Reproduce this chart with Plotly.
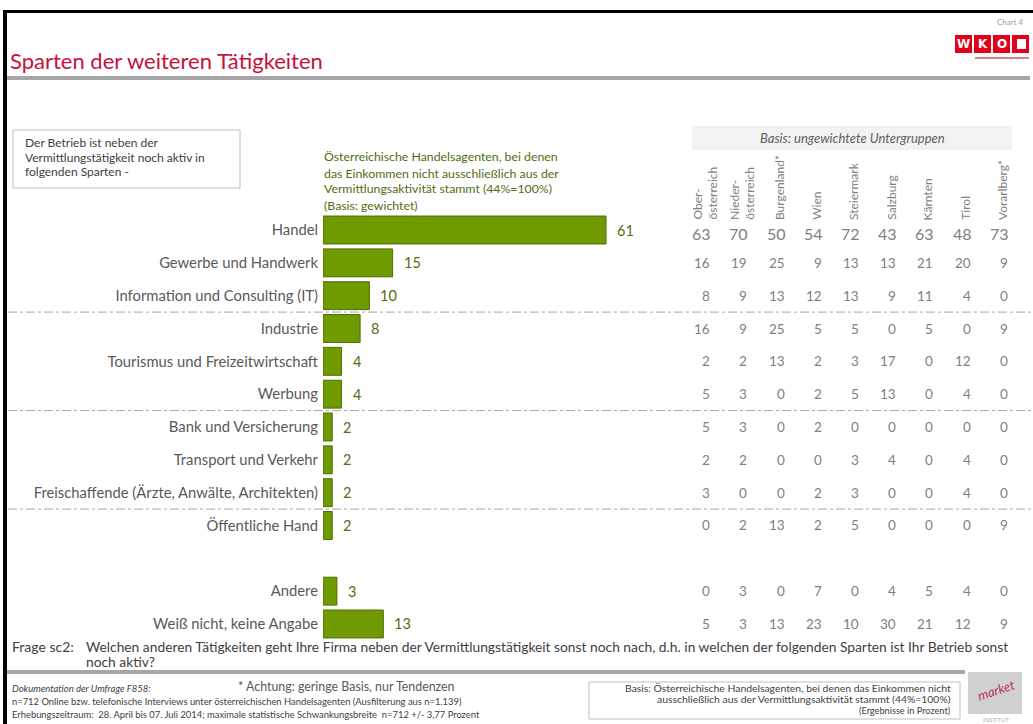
import plotly.graph_objects as go

W, H = 1033, 724

# ---------------- data ----------------
categories = [
    "Handel",
    "Gewerbe und Handwerk",
    "Information und Consulting (IT)",
    "Industrie",
    "Tourismus und Freizeitwirtschaft",
    "Werbung",
    "Bank und Versicherung",
    "Transport und Verkehr",
    "Freischaffende (Ärzte, Anwälte, Architekten)",
    "Öffentliche Hand",
    "Andere",
    "Weiß nicht, keine Angabe",
]
total_values = [61, 15, 10, 8, 4, 4, 2, 2, 2, 2, 3, 13]

regions = ["Ober-<br>österreich", "Nieder-<br>österreich", "Burgenland*", "Wien",
           "Steiermark", "Salzburg", "Kärnten", "Tirol", "Vorarlberg*"]

handel_r = [63, 70, 50, 54, 72, 43, 63, 48, 73]
gewerbe_r = [16, 19, 25, 9, 13, 13, 21, 20, 9]
info_r = [8, 9, 13, 12, 13, 9, 11, 4, 0]
industrie_r = [16, 9, 25, 5, 5, 0, 5, 0, 9]
tourismus_r = [2, 2, 13, 2, 3, 17, 0, 12, 0]
werbung_r = [5, 3, 0, 2, 5, 13, 0, 4, 0]
bank_r = [5, 3, 0, 2, 0, 0, 0, 0, 0]
transport_r = [2, 2, 0, 0, 3, 4, 0, 4, 0]
frei_r = [3, 0, 0, 2, 3, 0, 0, 4, 0]
oeff_r = [0, 2, 13, 2, 5, 0, 0, 0, 9]
andere_r = [0, 3, 0, 7, 0, 4, 5, 4, 0]
weiss_r = [5, 3, 13, 23, 10, 30, 21, 12, 9]
region_rows = [handel_r, gewerbe_r, info_r, industrie_r, tourismus_r, werbung_r,
               bank_r, transport_r, frei_r, oeff_r, andere_r, weiss_r]

spacer = " "
cat_order = categories[:10] + [spacer] + categories[10:]
separators_after = ["Information und Consulting (IT)", "Werbung",
                    "Freischaffende (Ärzte, Anwälte, Architekten)"]

# ---------------- styling ----------------
FONT = "Lato"
GREEN = "#6f9a00"
GREEN_EDGE = "#4f6e00"
GREEN_TXT = "#4f6e10"
LABEL_GRAY = "#595959"
NUM_GRAY = "#808080"
DARK = "#404040"


def X(px):
    return px / W


def Y(py):
    return 1 - py / H


fig = go.Figure()

fig.add_trace(go.Bar(
    x=total_values, y=categories, orientation="h",
    marker=dict(color=GREEN, line=dict(color=GREEN_EDGE, width=1)),
    xaxis="x", yaxis="y", hoverinfo="skip", showlegend=False,
))

# invisible trace on second x-axis so it is rendered
fig.add_trace(go.Scatter(
    x=regions, y=[categories[0]] * len(regions), mode="markers",
    marker=dict(opacity=0), xaxis="x2", yaxis="y", hoverinfo="skip", showlegend=False,
))

px_per_unit = (606 - 323) / 61
x_max = 70
bar_left = 323
bar_right = bar_left + x_max * px_per_unit

row_top = 230 - 16.4
row_bot = 624 + 16.4

fig.update_layout(
    width=W, height=H,
    margin=dict(l=0, r=0, t=0, b=0),
    paper_bgcolor="white", plot_bgcolor="rgba(0,0,0,0)",
    bargap=0.15,
    font=dict(family=FONT, color=LABEL_GRAY),
    xaxis=dict(domain=[X(bar_left), X(bar_right)], range=[0, x_max], visible=False,
               fixedrange=True),
    xaxis2=dict(domain=[X(686.4), X(1021.6)], range=[-0.5, len(regions) - 0.5],
                type="category", categoryorder="array", categoryarray=regions,
                visible=False, anchor="y"),
    yaxis=dict(domain=[Y(row_bot), Y(row_top)], type="category",
               categoryorder="array", categoryarray=cat_order,
               range=[len(cat_order) - 0.5, -0.5],
               showgrid=False, zeroline=False, showline=False, ticks="",
               ticklabelstandoff=4,
               tickfont=dict(family=FONT, size=14.8, color=LABEL_GRAY)),
)

ann = []
shapes = []

# value labels next to bars
for c, v in zip(categories, total_values):
    ann.append(dict(x=v, y=c, xref="x", yref="y", text=str(v), showarrow=False,
                    xanchor="left", xshift=9, font=dict(size=14.5, color=GREEN_TXT)))

# regional table
for r_i, (c, row) in enumerate(zip(categories, region_rows)):
    for reg, v in zip(regions, row):
        big = r_i == 0
        ann.append(dict(x=reg, y=c, xref="x2", yref="y", text=str(v), showarrow=False,
                        xanchor="right", xshift=8 if big else 7,
                        yshift=-3 if big else 0,
                        font=dict(size=16 if big else 13.5, color=NUM_GRAY)))

# rotated region headers
for reg in regions:
    ann.append(dict(x=reg, y=Y(222), xref="x2", yref="paper", text=reg, showarrow=False,
                    textangle=-90, xanchor="center", yanchor="bottom", align="left",
                    font=dict(size=12, color=NUM_GRAY)))

# separators (dash-dot)
for s in separators_after:
    i = cat_order.index(s)
    shapes.append(dict(type="line", xref="paper", yref="y", x0=X(8), x1=1,
                       y0=i + 0.5, y1=i + 0.5,
                       line=dict(color="#a6a6a6", width=1, dash="dashdot")))

# frame (black top and left)
shapes.append(dict(type="rect", xref="paper", yref="paper", x0=X(3), x1=1, y0=Y(13), y1=Y(10),
                   fillcolor="black", line=dict(width=0)))
shapes.append(dict(type="rect", xref="paper", yref="paper", x0=X(3), x1=X(7), y0=0, y1=Y(10),
                   fillcolor="black", line=dict(width=0)))
# grey bars
shapes.append(dict(type="rect", xref="paper", yref="paper", x0=X(7), x1=X(1030), y0=Y(80), y1=Y(76),
                   fillcolor="#a6a6a6", line=dict(width=0)))
shapes.append(dict(type="rect", xref="paper", yref="paper", x0=X(7), x1=X(965), y0=Y(674), y1=Y(670),
                   fillcolor="#a6a6a6", line=dict(width=0)))
# left info box
shapes.append(dict(type="rect", xref="paper", yref="paper", x0=X(13), x1=X(240), y0=Y(188), y1=Y(130),
                   line=dict(color="#bfbfbf", width=1)))
# basis band
shapes.append(dict(type="rect", xref="paper", yref="paper", x0=X(692), x1=X(1012), y0=Y(150), y1=Y(126),
                   fillcolor="#f2f2f2", line=dict(width=0), layer="below"))
# bottom right box
shapes.append(dict(type="rect", xref="paper", yref="paper", x0=X(589), x1=X(960), y0=Y(719), y1=Y(682),
                   line=dict(color="#bfbfbf", width=1)))

# WKO logo
for k, letter in enumerate(["W", "K", "O", ""]):
    x0 = 955 + k * 19
    shapes.append(dict(type="rect", xref="paper", yref="paper", x0=X(x0), x1=X(x0 + 17),
                       y0=Y(53), y1=Y(35), fillcolor="#e2001a", line=dict(width=0)))
    if letter:
        ann.append(dict(x=X(x0 + 8.5), y=Y(44), xref="paper", yref="paper", text=f"<b>{letter}</b>",
                        showarrow=False, xanchor="center", yanchor="middle",
                        font=dict(size=12, color="white", family="DejaVu Sans")))
shapes.append(dict(type="rect", xref="paper", yref="paper", x0=X(1017), x1=X(1026),
                   y0=Y(49), y1=Y(39), fillcolor="white", line=dict(width=0)))
shapes.append(dict(type="rect", xref="paper", yref="paper", x0=X(975), x1=X(1029),
                   y0=Y(59), y1=Y(57), fillcolor="#d98080", line=dict(width=0)))

# market logo
shapes.append(dict(type="rect", xref="paper", yref="paper", x0=X(968), x1=X(1022),
                   y0=Y(714), y1=Y(672), fillcolor="#d0d0d0", line=dict(width=0)))
ann.append(dict(x=X(996), y=Y(690), xref="paper", yref="paper", text="<i>market</i>",
                showarrow=False, textangle=-18, xanchor="center", yanchor="middle",
                font=dict(size=13, color="#c0306a", family=FONT)))
ann.append(dict(x=X(996), y=Y(719), xref="paper", yref="paper", text="INSTITUT",
                showarrow=False, xanchor="center", yanchor="middle",
                font=dict(size=6, color="#b0b0b0", family=FONT)))


def line_text(x, y, text, size, color=DARK, xanchor="left", italic=False):
    t = f"<i>{text}</i>" if italic else text
    return dict(x=X(x), y=Y(y), text=t, xanchor=xanchor, yanchor="middle",
                font=dict(size=size, color=color))


texts = [
    line_text(8, 60, "Sparten der weiteren Tätigkeiten", 22, "#c8103f"),
    line_text(1026, 22, "Chart 4", 8, "#a0a0a0", xanchor="right"),
    line_text(23, 143, "Der Betrieb ist neben der", 12),
    line_text(23, 157.5, "Vermittlungstätigkeit noch aktiv in", 12),
    line_text(23, 172, "folgenden Sparten -", 12),
    line_text(322, 157, "Österreichische Handelsagenten, bei denen", 12.3, GREEN_TXT),
    line_text(322, 173, "das Einkommen nicht ausschließlich aus der", 12.3, GREEN_TXT),
    line_text(322, 189, "Vermittlungsaktivität stammt (44%=100%)", 12.3, GREEN_TXT),
    line_text(322, 205, "(Basis: gewichtet)", 12.3, GREEN_TXT),
    line_text(852, 138, "Basis: ungewichtete Untergruppen", 13, "#606060", xanchor="center", italic=True),
    line_text(10, 646, "Frage sc2:", 14),
    line_text(84, 646, "Welchen anderen Tätigkeiten geht Ihre Firma neben der Vermittlungstätigkeit sonst noch nach, d.h. in welchen der folgenden Sparten ist Ihr Betrieb sonst", 13.8),
    line_text(84, 661, "noch aktiv?", 13.8),
    line_text(10, 688, "Dokumentation der Umfrage F858:", 9.5, italic=True),
    line_text(236, 686, "* Achtung: geringe Basis, nur Tendenzen", 12.4, LABEL_GRAY),
    line_text(10, 701, "n=712 Online bzw. telefonische Interviews unter österreichischen Handelsagenten (Ausfilterung aus n=1.139)", 9.4),
    line_text(10, 714, "Erhebungszeitraum:  28. April bis 07. Juli 2014; maximale statistische Schwankungsbreite  n=712 +/- 3,77 Prozent", 9.4),
    line_text(953, 688, "Basis: Österreichische Handelsagenten, bei denen das Einkommen nicht", 10.4, xanchor="right"),
    line_text(953, 699, "ausschließlich aus der Vermittlungsaktivität stammt (44%=100%)", 10.4, xanchor="right"),
    line_text(953, 710.5, "(Ergebnisse in Prozent)", 9.2, xanchor="right"),
]
for a in texts:
    a["xref"] = "paper"
    a["yref"] = "paper"
    a["showarrow"] = False
ann += texts

fig.update_layout(annotations=ann, shapes=shapes)
fig.write_html("out.html", config={"displayModeBar": False},
               post_script="document.body.style.margin='0';document.body.style.overflow='hidden';")
